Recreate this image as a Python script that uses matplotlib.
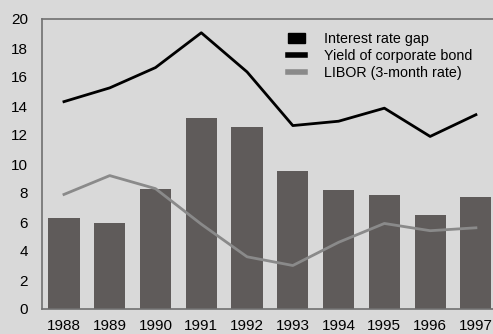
import matplotlib
matplotlib.use("Agg")
import matplotlib.pyplot as plt
from matplotlib.patches import Patch
from matplotlib.lines import Line2D
import numpy as np

years = ["1988", "1989", "1990", "1991", "1992", "1993", "1994", "1995", "1996", "1997"]
rate_gap = [6.3, 5.95, 8.3, 13.2, 12.55, 9.5, 8.2, 7.85, 6.5, 7.7]
corp_yield = [14.3, 15.25, 16.65, 19.05, 16.35, 12.65, 12.95, 13.85, 11.9, 13.4]
libor = [7.9, 9.2, 8.3, 5.85, 3.6, 3.0, 4.6, 5.9, 5.4, 5.6]

plt.rcParams["font.family"] = ["Liberation Sans", "DejaVu Sans"]

bg = "#d9d9d9"
fig = plt.figure(figsize=(4.93, 3.34), dpi=100, facecolor=bg)
# axes run a bit past the right edge of the figure, like the original
ax = fig.add_axes([42 / 493, 25 / 334, 460 / 493, 290 / 334], facecolor=bg)

x = np.arange(len(years))
ax.bar(x, rate_gap, width=0.68, color="#5f5b5a", zorder=2)
ax.plot(x, corp_yield, color="black", lw=2, zorder=3)
ax.plot(x, libor, color="#8a8a8a", lw=2, zorder=3)

ax.set_xlim(-0.48, 9.57)
ax.set_ylim(0, 20)
ax.set_yticks(range(0, 21, 2))
ax.set_xticks(x)
ax.set_xticklabels(years)
ax.tick_params(length=0, labelsize=11, colors="black", pad=10)
ax.tick_params(axis="x", pad=7)
for s in ["left", "top", "bottom"]:
    ax.spines[s].set_color("#707070")
    ax.spines[s].set_linewidth(1.2)
ax.spines["right"].set_visible(False)

handles = [
    Patch(facecolor="black", edgecolor="black"),
    Line2D([], [], color="black", lw=4),
    Line2D([], [], color="#8a8a8a", lw=4),
]
labels = ["Interest rate gap", "Yield of corporate bond", "LIBOR (3-month rate)"]
ax.legend(handles, labels, loc="upper left", bbox_to_anchor=(0.522, 0.975),
          frameon=False, fontsize=10.3, handlelength=1.2, handleheight=0.7,
          handletextpad=1.3, labelspacing=0.2, borderaxespad=0)

plt.savefig("out.png", dpi=100, facecolor=bg)
